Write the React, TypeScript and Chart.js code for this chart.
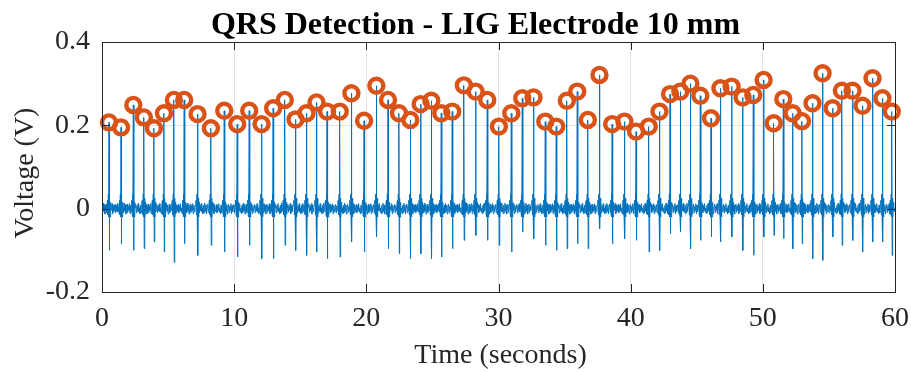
import React, { useEffect, useRef } from "react";
import { Chart, registerables } from "chart.js";

Chart.register(...registerables);

// R-peak times (s) and amplitudes (V)
const peakTimes = [
  0.53, 1.44, 2.37, 3.17, 3.93, 4.69, 5.44, 6.22, 7.23, 8.24, 9.25, 10.23,
  11.14, 12.07, 12.95, 13.83, 14.64, 15.47, 16.23, 17.03, 17.99, 18.87, 19.83,
  20.76, 21.64, 22.47, 23.33, 24.11, 24.92, 25.67, 26.5, 27.38, 28.27, 29.15,
  30.03, 30.97, 31.8, 32.65, 33.54, 34.37, 35.17, 35.96, 36.76, 37.64, 38.6,
  39.53, 40.41, 41.37, 42.18, 42.98, 43.76, 44.52, 45.27, 46.08, 46.79, 47.64,
  48.47, 49.28, 50.06, 50.82, 51.55, 52.25, 52.96, 53.76, 54.52, 55.28, 55.98,
  56.79, 57.54, 58.3, 59.05, 59.76,
];
const peakVolts = [
  0.207, 0.195, 0.249, 0.219, 0.193, 0.229, 0.261, 0.261, 0.227, 0.193, 0.235,
  0.203, 0.235, 0.203, 0.241, 0.261, 0.214, 0.229, 0.255, 0.233, 0.233, 0.277,
  0.211, 0.295, 0.261, 0.229, 0.213, 0.251, 0.259, 0.229, 0.233, 0.296, 0.281,
  0.261, 0.197, 0.229, 0.265, 0.267, 0.209, 0.197, 0.259, 0.281, 0.213, 0.321,
  0.203, 0.209, 0.185, 0.197, 0.233, 0.275, 0.281, 0.3, 0.271, 0.217, 0.289,
  0.293, 0.267, 0.273, 0.309, 0.205, 0.263, 0.229, 0.21, 0.253, 0.325, 0.241,
  0.283, 0.283, 0.247, 0.313, 0.265, 0.233,
];
// S-wave minimum after each R peak (V)
const troughVolts = [
  -0.1, -0.084, -0.1, -0.096, -0.08, -0.104, -0.129, -0.084, -0.112, -0.088,
  -0.104, -0.116, -0.088, -0.12, -0.12, -0.088, -0.1, -0.112, -0.104, -0.12,
  -0.116, -0.08, -0.104, -0.068, -0.096, -0.108, -0.12, -0.108, -0.12, -0.116,
  -0.096, -0.076, -0.064, -0.076, -0.088, -0.104, -0.056, -0.072, -0.088, -0.1,
  -0.096, -0.084, -0.096, -0.048, -0.084, -0.072, -0.076, -0.104, -0.1, -0.06,
  -0.056, -0.096, -0.076, -0.068, -0.08, -0.068, -0.1, -0.112, -0.068, -0.064,
  -0.072, -0.096, -0.084, -0.12, -0.124, -0.068, -0.088, -0.076, -0.104, -0.08,
  -0.08, -0.112,
];
// shape of the complex around each R peak: offsets (s) and levels (V)
const complexOffsets = [-0.12, -0.08, -0.05, -0.025, 0, 0.025, 0.05, 0.08, 0.11];
const complexLevels = [0.02, -0.015, 0.035, -0.02, null, null, 0.025, -0.02, 0.015];
// baseline noise levels between beats (V)
const baselineWiggle = [
  0.008, -0.01, 0.013, -0.006, 0.009, -0.013, 0.004, 0.011, -0.009, 0.006,
  -0.004, 0.012, -0.012, 0.008, -0.007, 0.003, 0.01, -0.01, 0.007, -0.005,
  0.012, -0.008, 0.002, -0.012,
];
const xTickValues = [0, 10, 20, 30, 40, 50, 60];
const yTickValues = [-0.2, 0, 0.2, 0.4];

const titleText = "QRS Detection - LIG Electrode 10 mm";
const xLabel = "Time (seconds)";
const yLabel = "Voltage (V)";

function buildSignal() {
  const pts: { x: number; y: number }[] = [];
  let w = 0;
  const fill = (from: number, to: number) => {
    for (let t = from; t < to; t += 0.045) {
      pts.push({ x: t, y: baselineWiggle[w % baselineWiggle.length] });
      w++;
    }
  };
  let cursor = 0;
  peakTimes.forEach((tp, i) => {
    fill(cursor, tp - 0.13);
    complexOffsets.forEach((o, k) => {
      let v = complexLevels[k];
      if (k === 4) v = peakVolts[i];
      if (k === 5) v = troughVolts[i];
      pts.push({ x: tp + o, y: v as number });
    });
    cursor = tp + 0.14;
  });
  fill(cursor, 60.001);
  return pts;
}

const FONT = '"Liberation Serif", "Times New Roman", serif';
const AXIS_COLOR = "#262626";

const framePlugin = {
  id: "matlabFrame",
  afterDraw(chart: any) {
    const { ctx, chartArea: a, scales } = chart;
    ctx.save();
    ctx.strokeStyle = AXIS_COLOR;
    ctx.lineWidth = 1;
    ctx.strokeRect(Math.round(a.left) + 0.5, Math.round(a.top) + 0.5, Math.round(a.right - a.left), Math.round(a.bottom - a.top));
    const tl = 8;
    ctx.beginPath();
    xTickValues.forEach((v) => {
      const px = Math.round(scales.x.getPixelForValue(v)) + 0.5;
      ctx.moveTo(px, a.bottom);
      ctx.lineTo(px, a.bottom - tl);
      ctx.moveTo(px, a.top);
      ctx.lineTo(px, a.top + tl);
    });
    yTickValues.forEach((v) => {
      const py = Math.round(scales.y.getPixelForValue(v)) + 0.5;
      ctx.moveTo(a.left, py);
      ctx.lineTo(a.left + tl, py);
      ctx.moveTo(a.right, py);
      ctx.lineTo(a.right - tl, py);
    });
    ctx.stroke();

    // title
    ctx.fillStyle = "#000000";
    ctx.font = `bold 32px ${FONT}`;
    ctx.textAlign = "center";
    ctx.textBaseline = "alphabetic";
    ctx.fillText(titleText, 475.5, 34);

    // x label
    ctx.fillStyle = AXIS_COLOR;
    ctx.font = `28px ${FONT}`;
    ctx.fillText(xLabel, 500.5, 363);

    // y label
    ctx.save();
    ctx.translate(33, 173);
    ctx.rotate(-Math.PI / 2);
    ctx.fillText(yLabel, 0, 0);
    ctx.restore();
    ctx.restore();
  },
};

export default function App() {
  const canvasRef = useRef<HTMLCanvasElement | null>(null);

  useEffect(() => {
    document.body.style.margin = "0";
    const canvas = canvasRef.current;
    if (!canvas) return;
    const peaks = peakTimes.map((t, i) => ({ x: t, y: peakVolts[i] }));
    const signal = buildSignal();

    const chart = new Chart(canvas, {
      type: "scatter",
      data: {
        datasets: [
          {
            label: "R peaks",
            data: peaks,
            showLine: false,
            pointRadius: 7,
            pointHoverRadius: 7,
            borderWidth: 4.4,
            borderColor: "#D95319",
            backgroundColor: "rgba(0,0,0,0)",
            clip: false as any,
            order: 0,
          },
          {
            label: "ECG",
            data: signal,
            showLine: true,
            pointRadius: 0,
            borderWidth: 1,
            borderColor: "#0072BD",
            backgroundColor: "#0072BD",
            tension: 0,
            order: 1,
          },
        ],
      },
      options: {
        animation: false,
        responsive: false,
        devicePixelRatio: 1,
        layout: { padding: { top: 42, right: 16, bottom: 0, left: 0 } },
        plugins: {
          legend: { display: false },
          tooltip: { enabled: false },
          title: { display: false },
        },
        scales: {
          x: {
            type: "linear",
            min: 0,
            max: 60,
            afterBuildTicks: (s: any) => {
              s.ticks = xTickValues.map((v) => ({ value: v }));
            },
            afterFit: (s: any) => {
              s.height = 80;
              s.paddingLeft = 0;
              s.paddingRight = 0;
            },
            ticks: {
              font: { family: FONT, size: 28 },
              color: AXIS_COLOR,
              padding: 10,
              maxRotation: 0,
              callback: (v: any) => String(v),
            },
            grid: { color: "#e3e3e3", drawTicks: false },
            border: { display: true, color: AXIS_COLOR },
          },
          y: {
            type: "linear",
            min: -0.2,
            max: 0.4,
            afterBuildTicks: (s: any) => {
              s.ticks = yTickValues.map((v) => ({ value: v }));
            },
            afterFit: (s: any) => {
              s.width = 102;
              s.paddingTop = 0;
              s.paddingBottom = 0;
            },
            ticks: {
              font: { family: FONT, size: 28 },
              color: AXIS_COLOR,
              padding: 12,
              callback: (v: any) => String(Math.round(Number(v) * 10) / 10),
            },
            grid: { color: "#e3e3e3", drawTicks: false },
            border: { display: true, color: AXIS_COLOR },
          },
        },
      },
      plugins: [framePlugin],
    });
    return () => chart.destroy();
  }, []);

  return (
    <div style={{ position: "absolute", left: 0, top: 0, width: 911, height: 372, background: "#fff" }}>
      <canvas ref={canvasRef} width={911} height={372} style={{ width: 911, height: 372, display: "block" }} />
    </div>
  );
}
